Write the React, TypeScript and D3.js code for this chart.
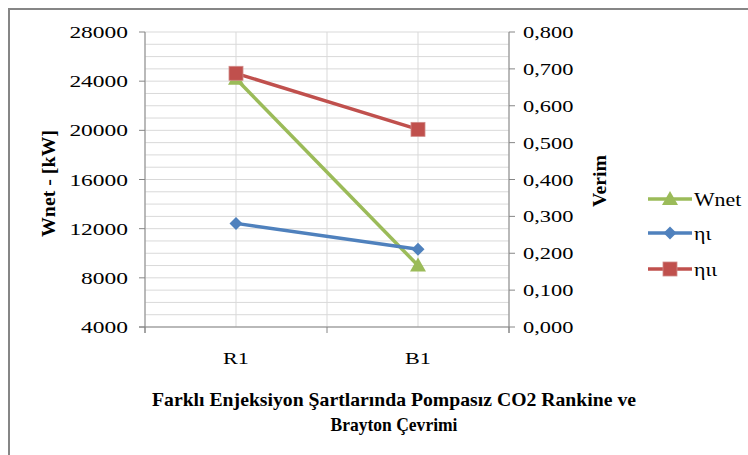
import React from 'react';
import * as d3 from 'd3';

// values
const categories = ['R1', 'B1'];
const wnet = [24200, 9000];
const etaI = [0.281, 0.211];
const etaII = [0.688, 0.536];

const leftTicks = [4000, 8000, 12000, 16000, 20000, 24000, 28000];
const rightTicks = [0, 0.1, 0.2, 0.3, 0.4, 0.5, 0.6, 0.7, 0.8];

const seriesNames = ['Wnet', 'ηι', 'ηιι'];
const colors = ['#9BBB59', '#4F81BD', '#C0504D'];

const font = (size: number, weight = 'normal') => ({
  fontFamily: '"Liberation Serif", serif',
  fontSize: `${size}px`,
  fontWeight: weight as any,
});

const App = () => {
  const W = 748;
  const H = 455;
  const plot = { left: 145, right: 509, top: 32, bottom: 327 };

  // band scale: each category gets half of the plot width
  const x = d3.scaleBand().domain(categories).range([plot.left, plot.right]);
  const xc = (c: string) => (x(c) as number) + x.bandwidth() / 2;

  const yL = d3.scaleLinear().domain([4000, 28000]).range([plot.bottom, plot.top]);
  const yR = d3.scaleLinear().domain([0, 0.8]).range([plot.bottom, plot.top]);

  const minor = d3.range(4000, 28001, 1000);
  const vLines = [plot.left, ...categories.map(xc), ...categories.map(c => (x(c) as number) + x.bandwidth())];

  const line = d3.line<[number, number]>();
  const series = [
    { pts: categories.map((c, i) => [xc(c), yL(wnet[i])] as [number, number]) },
    { pts: categories.map((c, i) => [xc(c), yR(etaI[i])] as [number, number]) },
    { pts: categories.map((c, i) => [xc(c), yR(etaII[i])] as [number, number]) },
  ];

  const marker = (k: number, px: number, py: number, key: string) => {
    const c = colors[k];
    if (k === 0) {
      const s = 8;
      return <path key={key} d={`M${px},${py - s}L${px + s},${py + s * 0.75}L${px - s},${py + s * 0.75}Z`} fill={c} />;
    }
    if (k === 1) {
      const s = 6.5;
      return <path key={key} d={`M${px},${py - s}L${px + s},${py}L${px},${py + s}L${px - s},${py}Z`} fill={c} />;
    }
    const s = 7;
    return <rect key={key} x={px - s} y={py - s} width={s * 2} height={s * 2} fill={c} stroke="#d08a88" strokeWidth={0.8} />;
  };

  const fmtR = (v: number) => v.toFixed(3).replace('.', ',');

  return (
    <svg width={W} height={H} style={{ position: 'absolute', left: 0, top: 0, background: '#fff' }}>
      <rect x={0} y={0} width={W} height={H} fill="#fff" />
      {/* outer border (left and top visible) */}
      <path d={`M9,${H}V9H${W}`} fill="none" stroke="#868686" strokeWidth={2} />

      {/* grid */}
      {minor.map(v => (
        <line key={'h' + v} x1={plot.left} x2={plot.right} y1={yL(v)} y2={yL(v)} stroke="#d9d9d9" strokeWidth={1} />
      ))}
      {vLines.map((vx, i) => (
        <line key={'v' + i} x1={vx} x2={vx} y1={plot.top} y2={plot.bottom} stroke="#d9d9d9" strokeWidth={1} />
      ))}

      {/* axes */}
      <line x1={plot.left} x2={plot.left} y1={plot.top} y2={plot.bottom + 6} stroke="#868686" />
      <line x1={plot.right} x2={plot.right} y1={plot.top} y2={plot.bottom + 6} stroke="#868686" />
      <line x1={plot.left - 6} x2={plot.right} y1={plot.bottom} y2={plot.bottom} stroke="#868686" />
      {[plot.left, ...categories.map(c => (x(c) as number) + x.bandwidth())].map((vx, i) => (
        <line key={'bt' + i} x1={vx} x2={vx} y1={plot.bottom} y2={plot.bottom + 6} stroke="#868686" />
      ))}
      {leftTicks.map(v => (
        <g key={'lt' + v}>
          <line x1={plot.left - 6} x2={plot.left} y1={yL(v)} y2={yL(v)} stroke="#868686" />
          <text transform={`translate(${plot.left - 17},${yL(v) + 6}) scale(1.38,1)`} textAnchor="end" style={font(17)} fill="#000">{v}</text>
        </g>
      ))}
      {rightTicks.map(v => (
        <g key={'rt' + v}>
          <line x1={plot.right} x2={plot.right + 6} y1={yR(v)} y2={yR(v)} stroke="#868686" />
          <text transform={`translate(${plot.right + 14},${yR(v) + 6}) scale(1.32,1)`} style={font(17)} fill="#000">{fmtR(v)}</text>
        </g>
      ))}
      {categories.map(c => (
        <text key={'xl' + c} transform={`translate(${xc(c)},${plot.bottom + 37}) scale(1.3,1)`} textAnchor="middle" style={font(17)} fill="#000">{c}</text>
      ))}

      {/* axis titles */}
      <text transform="translate(55,183.5) rotate(-90)" textAnchor="middle" style={font(19, 'bold')} textLength={107} lengthAdjust="spacingAndGlyphs">Wnet - [kW]</text>
      <text transform="translate(606,181) rotate(-90)" textAnchor="middle" style={font(19, 'bold')} textLength={52} lengthAdjust="spacingAndGlyphs">Verim</text>
      <text x={394} y={406} textAnchor="middle" style={font(19, 'bold')} textLength={484} lengthAdjust="spacingAndGlyphs">Farklı Enjeksiyon Şartlarında Pompasız CO2 Rankine ve</text>
      <text x={394} y={431} textAnchor="middle" style={font(19, 'bold')} textLength={127} lengthAdjust="spacingAndGlyphs">Brayton Çevrimi</text>

      {/* series */}
      {series.map((s, k) => (
        <path key={'l' + k} d={line(s.pts) as string} fill="none" stroke={colors[k]} strokeWidth={3.5} />
      ))}
      {series.map((s, k) => s.pts.map((p, i) => marker(k, p[0], p[1], `m${k}-${i}`)))}

      {/* legend */}
      {seriesNames.map((n, k) => {
        const ly = [199, 233, 269][k];
        return (
          <g key={'lg' + k}>
            <line x1={648} x2={692} y1={ly} y2={ly} stroke={colors[k]} strokeWidth={3.5} />
            {marker(k, 670, ly, 'lm' + k)}
            <text transform={`translate(694,${ly + 7}) scale(1.15,1)`} style={font(19)} fill="#000">{n}</text>
          </g>
        );
      })}
    </svg>
  );
};

export default App;
